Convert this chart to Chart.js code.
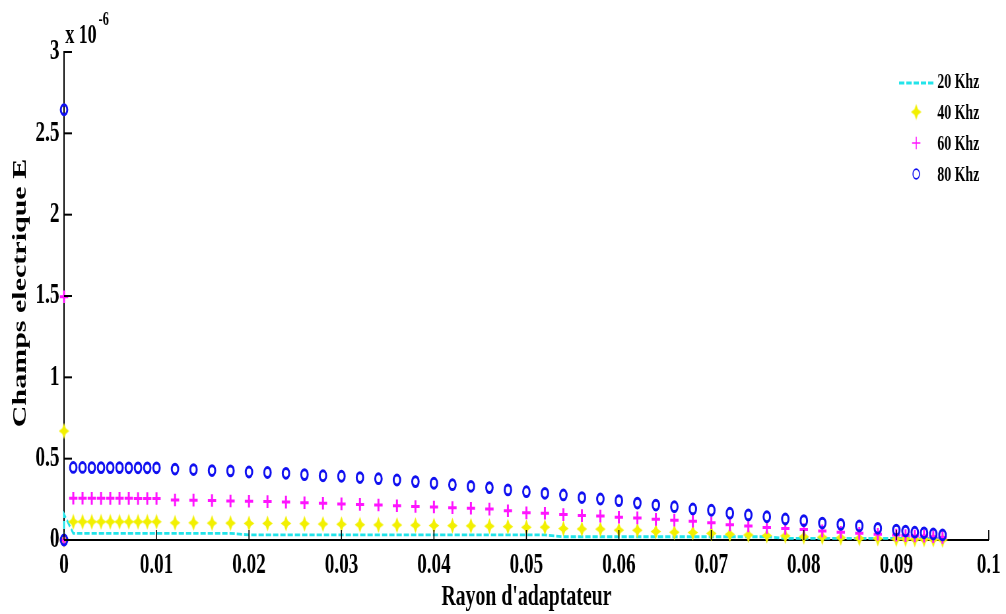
<!DOCTYPE html>
<html>
<head>
<meta charset="utf-8">
<script src="https://cdn.jsdelivr.net/npm/chart.js@4.4.1/dist/chart.umd.min.js"></script>
<style>
  html, body { margin: 0; padding: 0; background: #fff; overflow: hidden; }
  #wrap { width: 1006px; height: 614px; overflow: hidden; position: relative; }
  /* the figure is laid out wide and then condensed horizontally */
  #c { position: absolute; left: 0; top: 0; transform: scaleX(0.6601); transform-origin: 0 0; }
</style>
</head>
<body>
<div id="wrap"><canvas id="c" width="1524" height="614"></canvas></div>
<script>
// Rayon d'adaptateur (m)
const rayon = [
  0, 0,
  0.001, 0.002, 0.003, 0.004, 0.005, 0.006, 0.007, 0.008, 0.009, 0.010,
  0.012, 0.014, 0.016, 0.018, 0.020, 0.022, 0.024, 0.026, 0.028, 0.030,
  0.032, 0.034, 0.036, 0.038, 0.040, 0.042, 0.044, 0.046, 0.048, 0.050,
  0.052, 0.054, 0.056, 0.058, 0.060, 0.062, 0.064, 0.066, 0.068, 0.070,
  0.072, 0.074, 0.076, 0.078, 0.080, 0.082, 0.084, 0.086, 0.088,
  0.090, 0.091, 0.092, 0.093, 0.094, 0.095
];

// Champs electrique E, in units of 1e-6
const e20 = [
  0, 0.158,
  0.041, 0.041, 0.041, 0.041, 0.041, 0.041, 0.041, 0.041, 0.041, 0.041,
  0.041, 0.041, 0.041, 0.041, 0.031, 0.031, 0.031, 0.031, 0.031, 0.031,
  0.031, 0.031, 0.031, 0.031, 0.031, 0.031, 0.031, 0.031, 0.031, 0.031,
  0.031, 0.020, 0.020, 0.020, 0.020, 0.020, 0.020, 0.020, 0.020, 0.020,
  0.020, 0.020, 0.020, 0.010, 0.010, 0.010, 0.010, 0.010, 0.010,
  0.010, 0.010, 0.010, 0.010, 0.010, 0.010
];
const e40 = [
  0, 0.670,
  0.112, 0.112, 0.112, 0.112, 0.112, 0.112, 0.112, 0.112, 0.112, 0.112,
  0.106, 0.106, 0.104, 0.104, 0.102, 0.102, 0.102, 0.100, 0.098, 0.097,
  0.094, 0.093, 0.092, 0.091, 0.089, 0.088, 0.087, 0.085, 0.082, 0.078,
  0.079, 0.070, 0.068, 0.067, 0.061, 0.060, 0.052, 0.048, 0.046, 0.041,
  0.035, 0.031, 0.027, 0.025, 0.020, 0.018, 0.014, 0.010, 0.009,
  0.006, 0.006, 0.004, 0.004, 0.003, 0.001
];
const e60 = [
  0, 1.495,
  0.257, 0.257, 0.256, 0.256, 0.256, 0.256, 0.256, 0.255, 0.255, 0.255,
  0.246, 0.245, 0.243, 0.240, 0.238, 0.236, 0.233, 0.229, 0.226, 0.222,
  0.219, 0.215, 0.211, 0.206, 0.203, 0.199, 0.195, 0.190, 0.180, 0.167,
  0.164, 0.156, 0.150, 0.147, 0.140, 0.136, 0.127, 0.122, 0.116, 0.106,
  0.093, 0.086, 0.077, 0.071, 0.065, 0.056, 0.048, 0.041, 0.035,
  0.030, 0.027, 0.025, 0.024, 0.020, 0.015
];
const e80 = [
  0, 2.645,
  0.446, 0.446, 0.445, 0.445, 0.445, 0.445, 0.444, 0.444, 0.444, 0.444,
  0.436, 0.433, 0.427, 0.425, 0.418, 0.415, 0.410, 0.402, 0.395, 0.392,
  0.384, 0.377, 0.369, 0.359, 0.349, 0.340, 0.330, 0.322, 0.308, 0.297,
  0.287, 0.277, 0.261, 0.252, 0.242, 0.227, 0.215, 0.205, 0.191, 0.183,
  0.165, 0.154, 0.143, 0.129, 0.119, 0.104, 0.096, 0.086, 0.072,
  0.061, 0.055, 0.048, 0.044, 0.037, 0.031
];

const seriesLabels = ['20 Khz', '40 Khz', '60 Khz', '80 Khz'];
const xTicks = [0, 0.01, 0.02, 0.03, 0.04, 0.05, 0.06, 0.07, 0.08, 0.09, 0.1];
const xTickLabels = ['0', '0.01', '0.02', '0.03', '0.04', '0.05', '0.06', '0.07', '0.08', '0.09', '0.1'];
const yTicks = [0, 0.5, 1, 1.5, 2, 2.5, 3];
const yTickLabels = ['0', '0.5', '1', '1.5', '2', '2.5', '3'];
const xTitle = "Rayon d'adaptateur";
const yTitle = 'Champs electrique E';
const yExponent = ['x 10', '-6'];

const SERIF = "'Liberation Serif', 'Times New Roman', serif";

function pairs(ys) { return rayon.map((r, i) => ({ x: r, y: ys[i] })); }

// filled four-point star used for the 40 kHz markers
function starMarker(color) {
  const c = document.createElement('canvas');
  c.width = 17; c.height = 17;
  const g = c.getContext('2d');
  g.fillStyle = color;
  g.beginPath();
  for (let k = 0; k < 8; k++) {
    const a = -Math.PI / 2 + k * Math.PI / 4;
    const rad = k % 2 ? 3.8 : 8;
    g.lineTo(8.5 + rad * Math.cos(a), 8.5 + rad * Math.sin(a));
  }
  g.closePath();
  g.fill();
  return c;
}
const yellowStar = starMarker('#f2f000');

const datasets = [
  { label: seriesLabels[0], data: pairs(e20), showLine: true, borderColor: '#22e4ea',
    borderWidth: 2.8, borderDash: [8, 3], pointRadius: 0, order: 4, clip: false },
  { label: seriesLabels[1], data: pairs(e40), showLine: false, pointStyle: yellowStar,
    backgroundColor: '#f2f000', borderColor: '#f2f000', order: 3, clip: false },
  { label: seriesLabels[2], data: pairs(e60), showLine: false, pointStyle: 'cross',
    pointRadius: 6.3, borderWidth: 3, borderColor: '#ff14ff', order: 2, clip: false },
  { label: seriesLabels[3], data: pairs(e80), showLine: false, pointStyle: 'circle',
    pointRadius: 4.9, borderWidth: 3, borderColor: '#1010f0', backgroundColor: 'rgba(0,0,0,0)',
    order: 1, clip: false }
];

// inward tick marks, axis titles, exponent and legend
const decor = {
  id: 'decor',
  afterDraw(chart) {
    const { ctx, chartArea: a, scales: { x, y } } = chart;
    ctx.save();
    ctx.strokeStyle = '#000';
    ctx.lineWidth = 2;
    yTicks.forEach(v => {
      const py = y.getPixelForValue(v);
      ctx.beginPath(); ctx.moveTo(a.left, py); ctx.lineTo(a.left + 12, py); ctx.stroke();
    });
    ctx.lineWidth = 1.6;
    xTicks.forEach(v => {
      const px = x.getPixelForValue(v);
      ctx.beginPath(); ctx.moveTo(px, a.bottom); ctx.lineTo(px, a.bottom - 10); ctx.stroke();
    });

    ctx.fillStyle = '#000';
    // x title
    ctx.font = 'bold 30px ' + SERIF;
    ctx.textAlign = 'center';
    ctx.textBaseline = 'alphabetic';
    ctx.fillText(xTitle, (a.left + a.right) / 2, 605);
    // y title
    ctx.save();
    ctx.translate(39, (a.top + a.bottom) / 2 - 3);
    ctx.rotate(-Math.PI / 2);
    ctx.fillText(yTitle, 0, 0);
    ctx.restore();
    // exponent
    ctx.textAlign = 'left';
    ctx.font = 'bold 27px ' + SERIF;
    ctx.fillText(yExponent[0], a.left + 2, 43);
    const w = ctx.measureText(yExponent[0]).width;
    ctx.font = 'bold 19px ' + SERIF;
    ctx.fillText(yExponent[1], a.left + 2 + w + 3, 25);

    // legend
    const symX = 1388, txtX = 1420;
    const rows = [83, 114, 145, 176];
    ctx.font = 'bold 21px ' + SERIF;
    ctx.textBaseline = 'middle';
    datasets.forEach((d, i) => {
      const ly = rows[i];
      if (i === 0) {
        ctx.save();
        ctx.strokeStyle = d.borderColor;
        ctx.lineWidth = d.borderWidth;
        ctx.setLineDash(d.borderDash);
        ctx.beginPath(); ctx.moveTo(symX - 26, ly); ctx.lineTo(symX + 26, ly); ctx.stroke();
        ctx.restore();
      } else if (i === 1) {
        ctx.drawImage(yellowStar, symX - 8.5, ly - 2 - 8.5);
      } else {
        ctx.save();
        ctx.strokeStyle = d.borderColor;
        ctx.fillStyle = d.backgroundColor || d.borderColor;
        Chart.helpers.drawPoint(ctx, { pointStyle: d.pointStyle, radius: d.pointRadius,
          borderWidth: d.borderWidth, rotation: 0 }, symX, ly - 2);
        ctx.restore();
      }
      ctx.fillStyle = '#000';
      ctx.fillText(d.label, txtX, ly);
    });
    ctx.restore();
  }
};

new Chart(document.getElementById('c'), {
  type: 'scatter',
  data: { datasets },
  options: {
    responsive: false,
    animation: false,
    devicePixelRatio: 1,
    layout: { padding: { left: 0, right: 23, top: 52, bottom: 0 } },
    plugins: { legend: { display: false }, tooltip: { enabled: false } },
    scales: {
      x: {
        type: 'linear', min: 0, max: 0.1,
        afterFit: s => { s.height = 74; },
        afterBuildTicks: s => { s.ticks = xTicks.map(v => ({ value: v })); },
        grid: { display: false, drawTicks: false, tickLength: 0 },
        border: { display: true, color: '#000', width: 2 },
        ticks: { padding: 8, color: '#000', maxRotation: 0, autoSkip: false,
          font: { family: SERIF, size: 29, weight: 'bold' },
          callback: (v, i) => xTickLabels[i] }
      },
      y: {
        type: 'linear', min: 0, max: 3,
        afterFit: s => { s.width = 97; },
        afterBuildTicks: s => { s.ticks = yTicks.map(v => ({ value: v })); },
        grid: { display: false, drawTicks: false, tickLength: 0 },
        border: { display: true, color: '#000', width: 2 },
        ticks: { padding: 7, color: '#000', autoSkip: false,
          font: { family: SERIF, size: 29, weight: 'bold' },
          callback: (v, i) => yTickLabels[i] }
      }
    }
  },
  plugins: [decor]
});
</script>
</body>
</html>
